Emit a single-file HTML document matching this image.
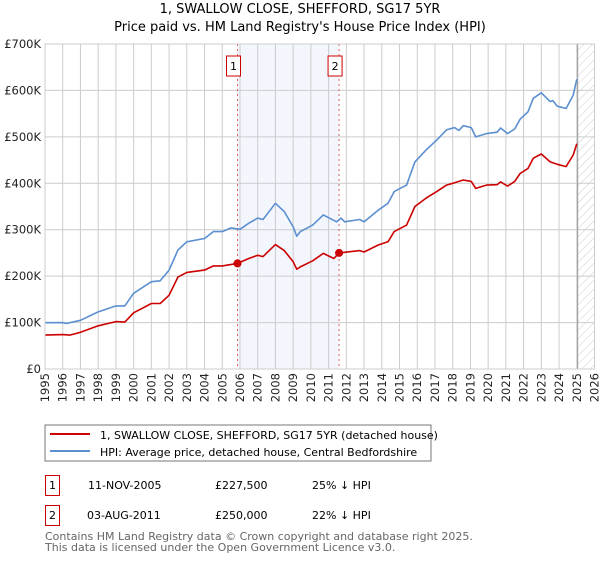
<!DOCTYPE html>
<html><head><meta charset="utf-8"><style>
body{margin:0;background:#fff;width:600px;height:560px;overflow:hidden;font-family:"DejaVu Sans","Liberation Sans",sans-serif;}
svg text{font-family:"DejaVu Sans","Liberation Sans",sans-serif;}
</style></head><body>
<svg id="chart" width="600" height="560" xmlns="http://www.w3.org/2000/svg">
<text x="300" y="13" text-anchor="middle" font-size="13">1, SWALLOW CLOSE, SHEFFORD, SG17 5YR</text>
<text x="300" y="31" text-anchor="middle" font-size="13">Price paid vs. HM Land Registry's House Price Index (HPI)</text>
<g id="plot"></g>
<rect x="45" y="425" width="386" height="36" fill="#fff" stroke="#777"/>
<line x1="50" y1="434" x2="90" y2="434" stroke="#cc0000" stroke-width="2"/>
<text x="100" y="439" font-size="11">1, SWALLOW CLOSE, SHEFFORD, SG17 5YR (detached house)</text>
<line x1="50" y1="451" x2="90" y2="451" stroke="#5b8fd0" stroke-width="2"/>
<text x="100" y="456" font-size="11">HPI: Average price, detached house, Central Bedfordshire</text>
<g>
<rect x="45.5" y="475.5" width="14" height="20" fill="none" stroke="#cc0000"/>
<text x="52.5" y="489" text-anchor="middle" font-size="11">1</text>
<text x="88" y="489" font-size="11">11-NOV-2005</text>
<text x="215" y="489" font-size="11">£227,500</text>
<text x="312" y="489" font-size="11">25% ↓ HPI</text>
</g>
<g>
<rect x="45.5" y="505.5" width="14" height="20" fill="none" stroke="#cc0000"/>
<text x="52.5" y="519" text-anchor="middle" font-size="11">2</text>
<text x="87" y="519" font-size="11">03-AUG-2011</text>
<text x="215" y="519" font-size="11">£250,000</text>
<text x="312" y="519" font-size="11">22% ↓ HPI</text>
</g>
<text x="45" y="540" font-size="11" fill="#666">Contains HM Land Registry data © Crown copyright and database right 2025.</text>
<text x="45" y="551" font-size="11" fill="#666">This data is licensed under the Open Government Licence v3.0.</text>
</svg>
<script>
const hpiYears=[1995,1996,1996.2,1997,1998,1999,1999.5,2000,2001,2001.5,2002,2002.5,2003,2004,2004.5,2005,2005.5,2006,2006.5,2007,2007.3,2008,2008.5,2009,2009.2,2009.4,2010.1,2010.7,2011.45,2011.7,2011.9,2012.75,2013.0,2013.8,2014.35,2014.7,2015.4,2015.87,2016.5,2017.1,2017.65,2018.1,2018.35,2018.6,2019.05,2019.3,2019.9,2020.5,2020.7,2021.1,2021.5,2021.8,2022.25,2022.55,2023.0,2023.5,2023.65,2023.9,2024.4,2024.8,2025.0];
const hpiValues=[99.7,100,98,105,123,136,136,163,188,190,213,256,274,281,296,296,304,301,314,325,322,357,339,306,286,296,310,332,317,325,317,322,317,342,357,382,396,446,472,493,515,520,514,524,520,500,507,510,519,507,517,538,554,583,595,576,578,566,561,590,624];
const priceYears=[1995,1996,1996.4,1997,1998,1999,1999.5,2000,2001,2001.5,2002,2002.5,2003,2004,2004.5,2005,2005.86,2006.5,2007,2007.3,2008,2008.5,2009,2009.2,2009.4,2010.1,2010.7,2011.3,2011.59,2012.75,2013.0,2013.8,2014.35,2014.7,2015.4,2015.87,2016.5,2017.1,2017.65,2018.1,2018.6,2019.05,2019.3,2019.9,2020.5,2020.7,2021.1,2021.5,2021.8,2022.25,2022.55,2023.0,2023.5,2023.9,2024.4,2024.8,2025.0];
const priceValues=[73,74,73,79,93,102,101,121,141,141,159,198,208,213,222,222,227.5,238,245,242,268,255,231,215,220,233,249,238,250,255,252,267,274,296,310,350,368,382,396,401,407,404,389,396,397,403,394,404,421,432,454,463,446,441,436,461,485];
const saleYears=[2005.86,2011.59];
const saleValues=[227.5,250];
const saleLabels=["1","2"];
const yTicks=[0,100,200,300,400,500,600,700];
const yTickLabels=["£0","£100K","£200K","£300K","£400K","£500K","£600K","£700K"];
const xTicks=[];for(let y=1995;y<=2026;y++)xTicks.push(y);

const X0=45,X1=594.5,Y0=369,Y1=44,XMIN=1995,XMAX=2026,YMAX=700;
const sx=v=>X0+(v-XMIN)/(XMAX-XMIN)*(X1-X0);
const sy=v=>Y0-v/YMAX*(Y0-Y1);
const NS="http://www.w3.org/2000/svg";
const g=document.getElementById('plot');
function mk(tag,attrs){const e=document.createElementNS(NS,tag);for(const k in attrs)e.setAttribute(k,attrs[k]);g.appendChild(e);return e;}

let e=mk('rect',{x:sx(saleYears[0]),y:Y1,width:sx(saleYears[1])-sx(saleYears[0]),height:Y0-Y1,fill:'#eef3fc',opacity:0.7});


const defs=document.createElementNS(NS,'defs');
defs.innerHTML='<pattern id="hatch" width="6" height="6" patternUnits="userSpaceOnUse" patternTransform="rotate(45)"><line x1="0" y1="0" x2="0" y2="6" stroke="#ccc" stroke-width="1"/></pattern>';
g.appendChild(defs);
e=mk('rect',{x:sx(2025.05),y:Y1,width:X1-sx(2025.05),height:Y0-Y1,fill:'url(#hatch)'});



xTicks.forEach(t=>{
 const l=mk('line',{x1:sx(t),x2:sx(t),y1:Y1,y2:Y0,stroke:'#cccccc','stroke-width':1});
 
 
 const tx=mk('text',{x:0,y:0,'text-anchor':'end','font-size':11.5,fill:'#222',transform:'translate('+(sx(t)+4)+','+(Y0+4)+') rotate(-90)'});
 tx.textContent=t;
 
 
});
yTicks.forEach((t,i)=>{
 const l=mk('line',{x1:X0,x2:X1,y1:sy(t),y2:sy(t),stroke:'#cccccc','stroke-width':1});
 
 
 const tx=mk('text',{x:X0-4,y:sy(t)+4,'text-anchor':'end','font-size':11.5,fill:'#222'});
 tx.textContent=yTickLabels[i];
 
 
});
e=mk('line',{x1:sx(2025.05),x2:sx(2025.05),y1:Y1,y2:Y0,stroke:'#999','stroke-width':1});



saleYears.forEach((yr,i)=>{
 const l=mk('line',{x1:sx(yr),x2:sx(yr),y1:Y1,y2:Y0,stroke:'#e06060','stroke-width':1,'stroke-dasharray':'2,3'});
 
 
 const r=mk('rect',{x:sx(yr)-11,y:56,width:14,height:20,fill:'#fff',stroke:'#cc0000'});
 
 
 const t=mk('text',{x:sx(yr)-4,y:70,'text-anchor':'middle','font-size':11});
 t.textContent=saleLabels[i];
 
 
});

function path(xs,vs,col,name){
 const d=xs.map((x,i)=>(i?'L':'M')+sx(x).toFixed(1)+','+sy(vs[i]).toFixed(1)).join('');
 const p=mk('path',{d:d,fill:'none',stroke:col,'stroke-width':1.6,'stroke-linejoin':'round'});
 
 
}
path(hpiYears,hpiValues,'#5b8fd0','hpi-line');
path(priceYears,priceValues,'#cc0000','property-price-line');
saleYears.forEach((yr,i)=>{
 const c=mk('circle',{cx:sx(yr),cy:sy(saleValues[i]),r:4,fill:'#cc0000'});
 
 
});
e=mk('rect',{x:X0,y:Y1,width:X1-X0,height:Y0-Y1,fill:'none',stroke:'#cccccc'});


</script>
</body></html>
